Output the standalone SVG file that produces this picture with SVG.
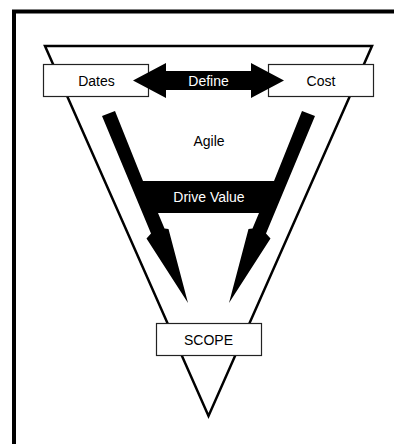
<svg xmlns="http://www.w3.org/2000/svg" width="394" height="444" viewBox="0 0 394 444">
  <style>
    .frame { fill: none; stroke: #000; stroke-width: 4; stroke-linejoin: miter; }
    .tri { fill: #fff; stroke: #000; stroke-width: 2.5; stroke-linejoin: miter; }
    .box { fill: #fff; stroke: #222; stroke-width: 1.2; }
    .lbl { font-family: "Liberation Sans", Arial, Helvetica, sans-serif; font-size: 14px; text-anchor: middle; fill: #000; }
    .inv { fill: #fff; }
    .solid { fill: #000; stroke: none; }
  </style>

  <rect width="394" height="444" fill="#fff"/>
  <!-- outer frame: left and top edges run to the canvas border -->
  <path class="frame" d="M14,444 V11.5 H394"/>

  <!-- inverted triangle -->
  <polygon class="tri" points="45,46 372,46 208.5,416"/>

  <!-- nodes -->
  <g id="dates">
    <rect class="box" x="43.5" y="64.5" width="105" height="32"/>
    <text class="lbl" x="96.5" y="85.5">Dates</text>
  </g>
  <g id="cost">
    <rect class="box" x="268.5" y="64.5" width="105" height="32"/>
    <text class="lbl" x="321" y="85.5">Cost</text>
  </g>
  <g id="agile">
    <text class="lbl" x="209" y="146">Agile</text>
  </g>
  <g id="scope">
    <rect class="box" x="156.5" y="323.5" width="105" height="32"/>
    <text class="lbl" x="208.5" y="344.5">SCOPE</text>
  </g>

  <!-- connectors (drawn over the box edges) -->
  <g id="connectors">
    <!-- Define: double-headed arrow between Dates and Cost -->
    <g id="define">
      <polygon class="solid" points="133,80.5 166,63 166,71 251,71 251,63 284,80.5 251,98 251,90 166,90 166,98"/>
      <text class="lbl inv" x="208.5" y="85.5">Define</text>
    </g>
    <!-- Drive Value: two arms joined by a bar, pointing down to SCOPE -->
    <g id="drive-value">
      <polygon class="solid" points="102,116 115,111 143,181 274,181 302,111 315,116 266,233.5 270.5,238.5 229,303 248.5,229 252.5,228.5 259,213 158,213 164.5,228.5 168.5,229 188,303 146.5,238.5 151,233.5"/>
      <text class="lbl inv" x="209" y="202">Drive Value</text>
    </g>
  </g>
</svg>
